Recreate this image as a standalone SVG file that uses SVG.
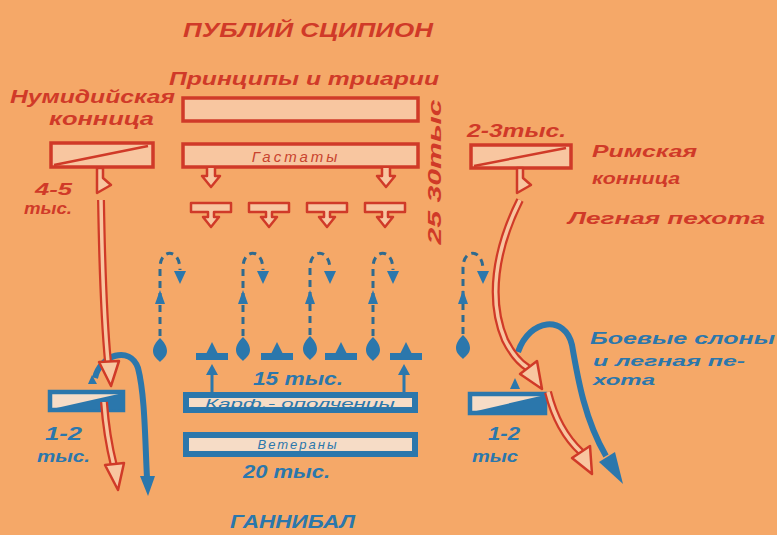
<svg xmlns="http://www.w3.org/2000/svg" xmlns:xlink="http://www.w3.org/1999/xlink" width="777" height="535" viewBox="0 0 777 535">
<style>
.t{font-family:"Liberation Sans","DejaVu Sans",sans-serif;font-weight:bold;font-style:italic}
.red{fill:#D03A28}
.blu{fill:#2B77AC}
.rrect{fill:#F8C6A0;stroke:#D03A28;stroke-width:3.5}
.brect{fill:#F6DCC6;stroke:#2B77AC;stroke-width:6}
.hol{fill:#F8C6A0;stroke:#D03A28;stroke-width:2.5;stroke-linejoin:round}
.rout{fill:none;stroke:#D03A28;stroke-width:8}
.rin{fill:none;stroke:#F8C6A0;stroke-width:3.5}
.bpath{fill:none;stroke:#2B77AC;stroke-width:6}
.dash{fill:none;stroke:#2F6A8E;stroke-width:3;stroke-dasharray:7 5}
.bf{fill:#2B77AC}
</style>
<defs>
<path id="rp1" d="M101,200 C102,260 104,320 108,362"/>
<path id="rp2" d="M104,402 C106,430 110,450 114,466"/>
<path id="rp3" d="M520,200 C495,250 488,300 505,340 Q515,360 528,368"/>
<path id="rp4" d="M548,392 C555,420 568,440 581,452"/>
<path id="tshape" d="M-20,0 h40 v9 h-17 v5 h5 l-8,10 l-8,-10 h5 v-5 h-17 z"/>
<path id="darr" d="M-4,0 v8 h-5 l9,11 l9,-11 h-5 v-8"/>
<path id="eleph" d="M0,-12 C4,-8 7,-4 7,1 C7,6 3,9 0,12 C-3,9 -7,6 -7,1 C-7,-4 -4,-8 0,-12 z"/>
</defs>
<rect width="777" height="535" fill="#F5A868"/>

<text class="t red" x="308" y="37" font-size="21" text-anchor="middle" textLength="250" lengthAdjust="spacingAndGlyphs">ПУБЛИЙ СЦИПИОН</text>

<g id="principes">
<text class="t red" x="304" y="85" font-size="19" text-anchor="middle" textLength="270" lengthAdjust="spacingAndGlyphs">Принципы и триарии</text>
<rect class="rrect" x="183" y="98" width="235" height="23"/>
</g>

<g id="hastati">
<rect class="rrect" x="183" y="144" width="235" height="23"/>
<text x="296" y="162" font-family="Liberation Sans, sans-serif" font-style="italic" font-size="15" fill="#C8432E" text-anchor="middle" letter-spacing="3">Гастаты</text>
<use href="#darr" class="hol" x="211" y="168"/>
<use href="#darr" class="hol" x="386" y="168"/>
</g>

<g id="velites">
<use href="#tshape" class="hol" x="211" y="203"/>
<use href="#tshape" class="hol" x="269" y="203"/>
<use href="#tshape" class="hol" x="327" y="203"/>
<use href="#tshape" class="hol" x="385" y="203"/>
</g>

<text class="t red" transform="translate(441,172) rotate(-90)" font-size="19" text-anchor="middle" textLength="145" lengthAdjust="spacingAndGlyphs">25 30тыс</text>

<g id="numidian">
<text class="t red" x="10" y="103" font-size="18" textLength="165" lengthAdjust="spacingAndGlyphs">Нумидийская</text>
<text class="t red" x="49" y="125" font-size="18" textLength="105" lengthAdjust="spacingAndGlyphs">конница</text>
<rect class="rrect" x="51" y="143" width="102" height="24"/>
<line x1="54" y1="165" x2="148" y2="146" stroke="#D03A28" stroke-width="2.5"/>
<polygon class="hol" points="97,168 103,168 103,178 111,185 97,193"/>
<text class="t red" x="35" y="195" font-size="17" textLength="37" lengthAdjust="spacingAndGlyphs">4-5</text>
<text class="t red" x="24" y="214" font-size="17" textLength="48" lengthAdjust="spacingAndGlyphs">тыс.</text>
</g>

<g id="roman-cav">
<text class="t red" x="467" y="137" font-size="18" textLength="99" lengthAdjust="spacingAndGlyphs">2-3тыс.</text>
<rect class="rrect" x="471" y="145" width="100" height="23"/>
<line x1="474" y1="166" x2="566" y2="148" stroke="#D03A28" stroke-width="2.5"/>
<polygon class="hol" points="517,168 523,168 523,178 531,185 517,193"/>
<text class="t red" x="592" y="157" font-size="17" textLength="105" lengthAdjust="spacingAndGlyphs">Римская</text>
<text class="t red" x="592" y="184" font-size="17" textLength="88" lengthAdjust="spacingAndGlyphs">конница</text>
<text class="t red" x="568" y="224" font-size="17" textLength="197" lengthAdjust="spacingAndGlyphs">Легная пехота</text>
</g>

<g id="left-blue">
<rect x="50" y="392" width="73" height="18" fill="#F6DCC6" stroke="#2B77AC" stroke-width="4.5"/>
<polygon class="bf" points="52,409 123,393 123,410"/>
<polygon class="bf" points="88,384 97,384 92,375"/>
<text class="t blu" x="45" y="440" font-size="18" textLength="37" lengthAdjust="spacingAndGlyphs">1-2</text>
<text class="t blu" x="37" y="462" font-size="17" textLength="53" lengthAdjust="spacingAndGlyphs">тыс.</text>
</g>

<g id="right-blue">
<rect x="470" y="394" width="75" height="19" fill="#F6DCC6" stroke="#2B77AC" stroke-width="4.5"/>
<polygon class="bf" points="472,412 545,395 545,413"/>
<polygon class="bf" points="510,389 520,389 515,378"/>
<text class="t blu" x="488" y="440" font-size="18" textLength="32" lengthAdjust="spacingAndGlyphs">1-2</text>
<text class="t blu" x="472" y="462" font-size="17" textLength="46" lengthAdjust="spacingAndGlyphs">тыс</text>
<text class="t blu" x="590" y="344" font-size="17" textLength="185" lengthAdjust="spacingAndGlyphs">Боевые слоны</text>
<text class="t blu" x="593" y="366" font-size="14" textLength="152" lengthAdjust="spacingAndGlyphs">и легная пе-</text>
<text class="t blu" x="593" y="385" font-size="14" textLength="62" lengthAdjust="spacingAndGlyphs">хота</text>
</g>

<g id="elephants">
<path class="dash" d="M160,336 V268 C160,248 180,248 180,270"/>
<path class="dash" d="M243,336 V268 C243,248 263,248 263,270"/>
<path class="dash" d="M310,335 V268 C310,248 330,248 330,270"/>
<path class="dash" d="M373,336 V268 C373,248 393,248 393,270"/>
<path class="dash" d="M463,334 V268 C463,248 483,248 483,270"/>
<g class="bf">
<polygon points="174,271 186,271 180,284"/>
<polygon points="257,271 269,271 263,284"/>
<polygon points="324,271 336,271 330,284"/>
<polygon points="387,271 399,271 393,284"/>
<polygon points="477,271 489,271 483,284"/>
<polygon points="155,304 165,304 160,290"/>
<polygon points="238,304 248,304 243,290"/>
<polygon points="305,304 315,304 310,290"/>
<polygon points="368,304 378,304 373,290"/>
<polygon points="458,304 468,304 463,290"/>
<use href="#eleph" x="160" y="350"/>
<use href="#eleph" x="243" y="349"/>
<use href="#eleph" x="310" y="348"/>
<use href="#eleph" x="373" y="349"/>
<use href="#eleph" x="463" y="347"/>
</g>
</g>

<g id="infantry" class="bf">
<rect x="196" y="353" width="32" height="7"/><polygon points="206,354 218,354 212,342"/>
<rect x="261" y="353" width="32" height="7"/><polygon points="271,354 283,354 277,342"/>
<rect x="325" y="353" width="32" height="7"/><polygon points="335,354 347,354 341,342"/>
<rect x="390" y="353" width="32" height="7"/><polygon points="400,354 412,354 406,342"/>
<rect x="210.5" y="372" width="3" height="20"/><polygon points="206,375 218,375 212,364"/>
<rect x="402.5" y="372" width="3" height="20"/><polygon points="398,375 410,375 404,364"/>
</g>

<g id="carthaginians">
<text class="t blu" x="253" y="385" font-size="18" textLength="90" lengthAdjust="spacingAndGlyphs">15 тыс.</text>
<rect class="brect" x="186" y="395" width="229" height="15"/>
<text x="300" y="408" font-family="Liberation Sans, sans-serif" font-style="italic" font-size="13" fill="#2B77AC" text-anchor="middle" textLength="190" lengthAdjust="spacingAndGlyphs">Карф.- ополченцы</text>
</g>

<g id="veterans">
<rect class="brect" x="186" y="435" width="229" height="19"/>
<text x="298" y="449" font-family="Liberation Sans, sans-serif" font-style="italic" font-size="13" fill="#2B77AC" text-anchor="middle" letter-spacing="2">Ветераны</text>
<text class="t blu" x="243" y="478" font-size="18" textLength="87" lengthAdjust="spacingAndGlyphs">20 тыс.</text>
</g>

<text class="t blu" x="230" y="528" font-size="19" textLength="125" lengthAdjust="spacingAndGlyphs">ГАННИБАЛ</text>

<g id="connectors">
<path class="bpath" d="M95,378 C100,355 130,345 138,368 C145,395 145,440 147,478"/>
<polygon class="bf" points="140,476 155,476 148,496"/>
<path class="bpath" d="M518,352 C530,318 565,315 572,345 C578,380 585,420 606,456"/>
<polygon class="bf" points="599,462 615,452 623,484"/>
<use href="#rp1" class="rout"/><use href="#rp1" class="rin"/>
<polygon class="hol" points="99,362 119,361 111,386"/>
<use href="#rp2" class="rout"/><use href="#rp2" class="rin"/>
<polygon class="hol" points="105,465 124,463 118,490"/>
<use href="#rp3" class="rout"/><use href="#rp3" class="rin"/>
<polygon class="hol" points="520,374 537,361 542,389"/>
<use href="#rp4" class="rout"/><use href="#rp4" class="rin"/>
<polygon class="hol" points="572,458 590,446 592,474"/>
</g>
</svg>
